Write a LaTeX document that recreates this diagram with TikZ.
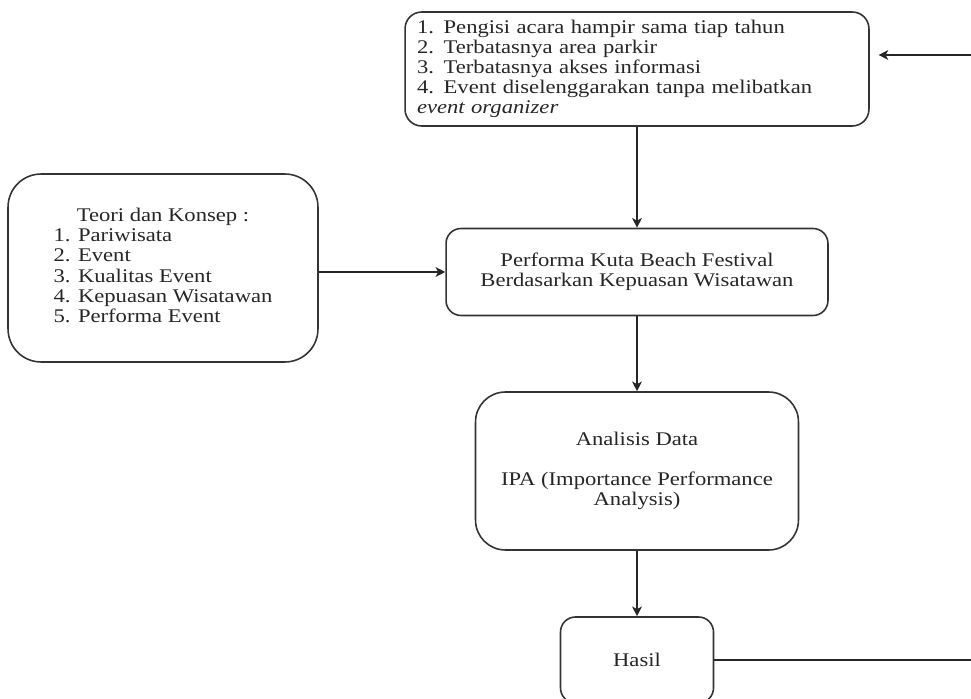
\documentclass[tikz,border=0pt]{standalone}
\usepackage{fontspec}
\setmainfont{Liberation Serif}[FakeStretch=1.17]
\usepackage{tikz}
\usetikzlibrary{arrows.meta}

\tikzset{
  box/.style={draw=black!80, line width=0.9pt, rectangle, rounded corners=#1, text=black!85, font=\fontsize{11}{11.4}\selectfont},
  box/.default=8.5pt,
  link/.style={draw=black!85, line width=0.9pt, -{Stealth[length=5.5pt, width=5.5pt, inset=1.5pt]}}
}

\begin{document}
\begin{tikzpicture}[x=0.02cm, y=-0.02cm]
  \useasboundingbox (0,0) rectangle (971,699);

  \node[box=9.5pt, minimum width=9.28cm, minimum height=2.28cm, text width=8.8cm, align=left] (mas) at (637,69)
    {1. Pengisi acara hampir sama tiap tahun\\ 2. Terbatasnya area parkir\\ 3. Terbatasnya akses informasi\\ 4. Event diselenggarakan tanpa melibatkan\\ \textit{event organizer}};
  \node[box=18.8pt, minimum width=6.2cm, minimum height=3.76cm] (teori) at (163,268)
    {\begin{tabular}{@{}l@{}}\multicolumn{1}{@{}c@{}}{Teori dan Konsep :}\\ 1. Pariwisata\\ 2. Event\\ 3. Kualitas Event\\ 4. Kepuasan Wisatawan\\ 5. Performa Event\end{tabular}};
  \node[box, minimum width=7.64cm, minimum height=1.74cm, align=center] (perf) at (637,272)
    {Performa Kuta Beach Festival\\ Berdasarkan Kepuasan Wisatawan};
  \node[box=17pt, minimum width=6.46cm, minimum height=3.16cm, align=center] (ana) at (637,471)
    {Analisis Data\\[11.4pt] IPA (Importance Performance\\ Analysis)};
  \node[box, minimum width=3.06cm, minimum height=1.72cm] (has) at (637,660) {Hasil};

  \coordinate (balik) at (990,0);

  \draw[link] (mas.south) -- (mas.south |- perf.north);
  \draw[link] (teori.east |- perf.west) -- (perf.west);
  \draw[link] (perf.south) -- (perf.south |- ana.north);
  \draw[link] (ana.south) -- (ana.south |- has.north);
  \draw[link, shorten >=5pt] (has.east) -- (has.east -| balik) |- ([yshift=0.28cm]mas.east);
\end{tikzpicture}
\end{document}
